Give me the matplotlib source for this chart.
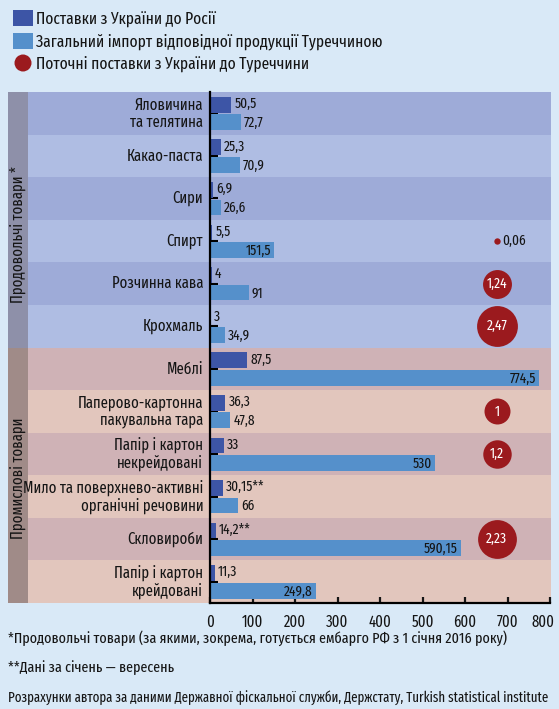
import matplotlib
matplotlib.use('Agg')
import matplotlib.pyplot as plt
from matplotlib.patches import Rectangle, Ellipse
from matplotlib.transforms import blended_transform_factory, ScaledTranslation
import numpy as np

plt.rcParams['font.family'] = ['Fira Sans Extra Condensed', 'Fira Sans Condensed', 'DejaVu Sans']

# data
categories = ['Яловичина\nта телятина', 'Какао-паста', 'Сири', 'Спирт', 'Розчинна кава', 'Крохмаль',
              'Меблі', 'Паперово-картонна\nпакувальна тара', 'Папір і картон\nнекрейдовані',
              'Мило та поверхнево-активні\nорганічні речовини', 'Скловироби', 'Папір і картон\nкрейдовані']
to_russia = [50.5, 25.3, 6.9, 5.5, 4, 3, 87.5, 36.3, 33, 30.15, 14.2, 11.3]
to_russia_lbl = ['50,5', '25,3', '6,9', '5,5', '4', '3', '87,5', '36,3', '33', '30,15**', '14,2**', '11,3']
turkey_import = [72.7, 70.9, 26.6, 151.5, 91, 34.9, 774.5, 47.8, 530, 66, 590.15, 249.8]
turkey_import_lbl = ['72,7', '70,9', '26,6', '151,5', '91', '34,9', '774,5', '47,8', '530', '66', '590,15', '249,8']
ua_to_turkey = [None, None, None, 0.06, 1.24, 2.47, None, 1, 1.2, None, 2.23, None]
ua_to_turkey_lbl = ['', '', '', '0,06', '1,24', '2,47', '', '1', '1,2', '', '2,23', '']
groups = ['Продовольчі товари *', 'Промислові товари']
group_size = [6, 6]

bg = '#d9e9f7'
c_dark = '#3d55a6'
c_light = '#5590cb'
c_red = '#9b1a1e'
band_food = ['#9eabd8', '#afbde3']
band_ind = ['#cfb2b6', '#e2c6bd']
strip = ['#8e90a9', '#a08b88']
ink = '#151515'

W, H = 559, 709
fig = plt.figure(figsize=(W / 100, H / 100), dpi=100, facecolor=bg)
ax = fig.add_axes([210 / W, 1 - 603 / H, 340 / W, 511 / H])
ax.set_facecolor('none')

n = len(categories)
ax.set_xlim(0, 800)
ax.set_ylim(0, n)
yc = np.array([n - 0.5 - i for i in range(n)])

# row bands, extended left into the label column
tb = blended_transform_factory(fig.transFigure, ax.transData)
for i in range(n):
    cols = band_food if i < group_size[0] else band_ind
    ax.add_patch(Rectangle((28 / W, yc[i] - 0.5), (551 - 28) / W, 1, transform=tb,
                           facecolor=cols[i % 2], edgecolor='none', zorder=0, clip_on=False))
start = 0
shift = [-0.35, -0.08]
for g, size in enumerate(group_size):
    ax.add_patch(Rectangle((8 / W, n - start - size), 20 / W, size, transform=tb,
                           facecolor=strip[g], edgecolor='none', zorder=0, clip_on=False))
    ax.text(18 / W, n - start - size / 2 + shift[g], groups[g], transform=tb, rotation=90,
            ha='center', va='center', fontsize=11.5, color=ink)
    start += size

h = 0.37
ax.barh(yc + 0.2, to_russia, height=h, color=c_dark, zorder=3)
ax.barh(yc - 0.21, turkey_import, height=h, color=c_light, zorder=3)

lt = blended_transform_factory(ax.transAxes, ax.transData)
for i in range(n):
    ax.text(to_russia[i] + 7, yc[i] + 0.22, to_russia_lbl[i], va='center', ha='left',
            fontsize=10.5, color=ink, zorder=5)
    if turkey_import[i] > 120:
        ax.text(turkey_import[i] - 8, yc[i] - 0.23, turkey_import_lbl[i], va='center', ha='right',
                fontsize=10.5, color=ink, zorder=5)
    else:
        ax.text(turkey_import[i] + 7, yc[i] - 0.23, turkey_import_lbl[i], va='center', ha='left',
                fontsize=10.5, color=ink, zorder=5)
    ax.text(-0.02, yc[i], categories[i], transform=lt, ha='right', va='center',
            fontsize=11.5, color=ink, linespacing=1.1)
    v = ua_to_turkey[i]
    if v is not None:
        ax.scatter([675], [yc[i]], s=v * 350, color=c_red, zorder=4, linewidths=0)
        if v < 0.5:
            ax.text(688, yc[i], ua_to_turkey_lbl[i], va='center', ha='left', fontsize=10.5, color=ink)
        else:
            ax.text(675, yc[i], ua_to_turkey_lbl[i], va='center', ha='center', fontsize=10.5,
                    color='white', zorder=5)

for s in ['top', 'right']:
    ax.spines[s].set_visible(False)
for s in ['left', 'bottom']:
    ax.spines[s].set_linewidth(1.6)
    ax.spines[s].set_zorder(6)
ax.set_yticks(yc)
ax.set_yticklabels([])
ax.tick_params(axis='y', direction='in', length=6, width=1.5)
ax.set_xticks(np.arange(0, 801, 100))
ax.tick_params(axis='x', direction='in', length=4, width=1.6, labelsize=11.5, pad=8, colors=ink)
last = ax.get_xticklabels()[-1]
last.set_transform(last.get_transform() + ScaledTranslation(-7 / 100, 0, fig.dpi_scale_trans))

# legend
fig.add_artist(Rectangle((13 / W, 1 - 26 / H), 20 / W, 16 / H, transform=fig.transFigure,
                         facecolor=c_dark, edgecolor='none'))
fig.add_artist(Rectangle((13 / W, 1 - 49 / H), 20 / W, 16 / H, transform=fig.transFigure,
                         facecolor=c_light, edgecolor='none'))
fig.add_artist(Ellipse((23 / W, 1 - 63 / H), 17 / W, 17 / H, transform=fig.transFigure,
                       facecolor=c_red, edgecolor='none'))
leg = ['Поставки з України до Росії', 'Загальний імпорт відповідної продукції Туреччиною',
       'Поточні поставки з України до Туреччини']
for k, t in enumerate(leg):
    fig.text(36 / W, 1 - (19 + 22.5 * k) / H, t, ha='left', va='center', fontsize=12.1, color=ink)

fig.text(8 / W, 1 - 638 / H, '*Продовольчі товари (за якими, зокрема, готується ембарго РФ з 1 січня 2016 року)',
         ha='left', va='center', fontsize=11, color=ink)
fig.text(8 / W, 1 - 668 / H, '**Дані за січень — вересень', ha='left', va='center', fontsize=11, color=ink)
fig.text(8 / W, 1 - 698 / H,
         'Розрахунки автора за даними Державної фіскальної служби, Держстату, Turkish statistical institute',
         ha='left', va='center', fontsize=10.1, color=ink)

fig.savefig('out.png', dpi=100, facecolor=bg)
